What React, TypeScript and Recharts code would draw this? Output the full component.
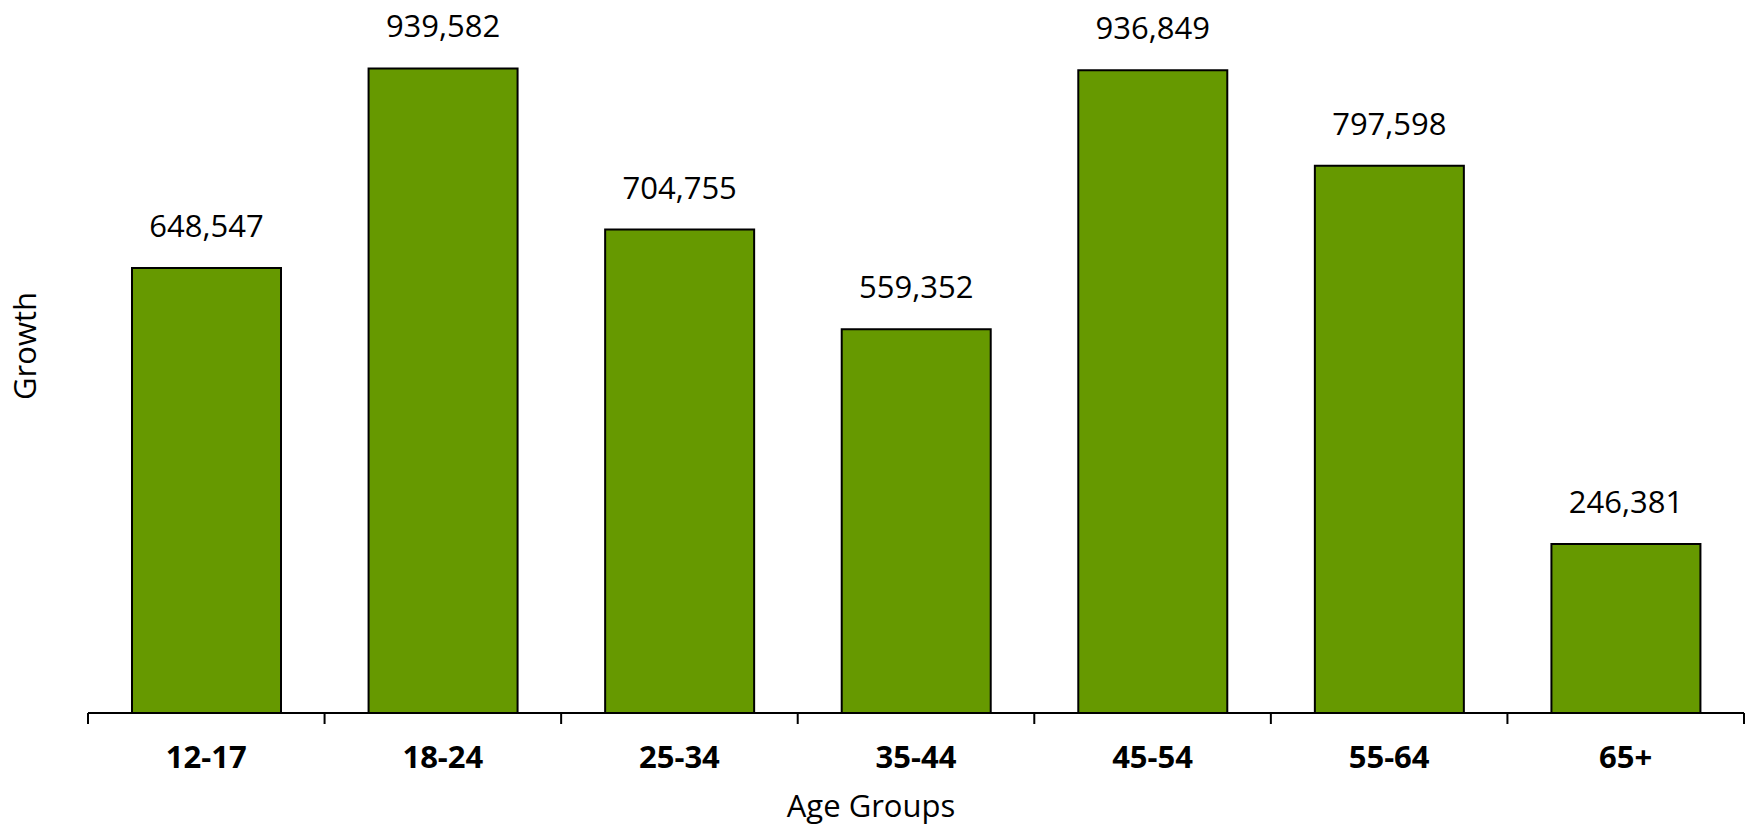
import React from "react";
import { BarChart, Bar, XAxis, YAxis, LabelList, Label } from "recharts";

// Growth by age group
const ageGroups = ["12-17", "18-24", "25-34", "35-44", "45-54", "55-64", "65+"];
const growth = [648547, 939582, 704755, 559352, 936849, 797598, 246381];

const data = ageGroups.map((group, i) => ({ group, growth: growth[i] }));

const W = 1745;
const H = 827;
const FONT = "'Open Sans', sans-serif";
const TICK_LEN = 11;

const fmt = (v: number) => v.toLocaleString("en-US");

// category label in the band centre, tick marks on the band edges
function EdgeTick(props: any) {
  const { x, y, payload, index, visibleTicksCount } = props;
  const half = payload.offset || 0;
  const isLast = index === (visibleTicksCount ?? ageGroups.length) - 1;
  return (
    <g>
      <line x1={x - half} x2={x - half} y1={y - 22 - TICK_LEN} y2={y - 22} stroke="#000" strokeWidth={2} />
      {isLast && (
        <line x1={x + half} x2={x + half} y1={y - 22 - TICK_LEN} y2={y - 22} stroke="#000" strokeWidth={2} />
      )}
      <text x={x} y={y} dy="0.71em" textAnchor="middle" fontSize={31} fontWeight={700} fontFamily={FONT} fill="#000">
        {payload.value}
      </text>
    </g>
  );
}

export default function App() {
  return (
    <div style={{ position: "absolute", left: 0, top: 0, width: W, height: H, background: "#fff", fontFamily: FONT }}>
      <BarChart
        width={W}
        height={H}
        data={data}
        margin={{ top: 27, right: 1, bottom: 0, left: 88 }}
        barCategoryGap="18.6%"
      >
        <XAxis
          dataKey="group"
          height={114}
          tickLine={false}
          axisLine={{ stroke: "#000", strokeWidth: 2 }}
          tickSize={TICK_LEN}
          tickMargin={22}
          tick={<EdgeTick />}
          interval={0}
        >
          <Label
            content={() => (
              <g>
                <text x={871} y={817} textAnchor="middle" fontSize={31} fontFamily={FONT} fill="#000">
                  Age Groups
                </text>
                <text
                  x={36}
                  y={346}
                  textAnchor="middle"
                  fontSize={31}
                  fontFamily={FONT}
                  fill="#000"
                  transform="rotate(-90 36 346)"
                >
                  Growth
                </text>
              </g>
            )}
          />
        </XAxis>
        <YAxis hide domain={[0, 1000000]} />
        <Bar
          dataKey="growth"
          fill="#669900"
          stroke="#000"
          strokeWidth={2}
          isAnimationActive={false}
        >
          <LabelList
            dataKey="growth"
            position="top"
            offset={31}
            formatter={(v: number) => fmt(v)}
            style={{ fontSize: 31, fontFamily: FONT, fill: "#000" }}
          />
        </Bar>
      </BarChart>
    </div>
  );
}
